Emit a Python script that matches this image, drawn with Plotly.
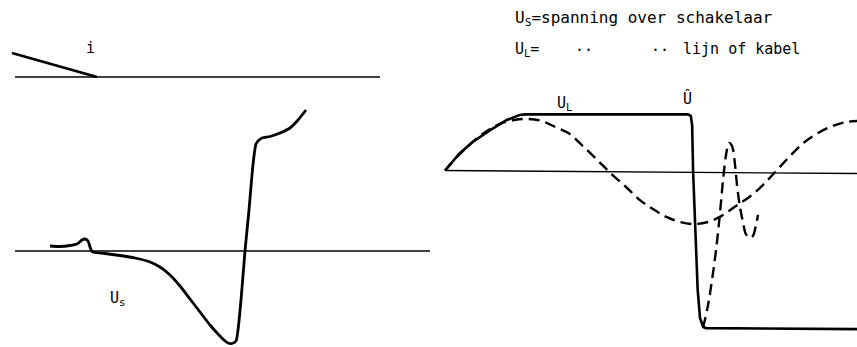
import plotly.graph_objects as go

# ---------------- data ----------------
# Left diagram: time in microseconds, 0 = current zero
t_i = [-17.0, 0.0]
i_vals = [1.0, 0.0]
t_i_axis = [-16.4, 56.6]

t_us = [-9.4, -7.4, -5.4, -4.0, -3.0, -2.4, -1.8, -1.4, -1.0, -0.4, 1.6, 4.6,
        7.6, 10.6, 12.6, 14.6, 16.6, 18.6, 20.6, 22.6, 24.2, 25.4, 26.2, 27.0,
        27.8, 28.2, 28.8, 29.6, 30.4, 31.0, 31.4, 31.8, 32.4, 33.0, 34.6, 36.6,
        38.6, 40.2, 41.8]
us_vals = [0.10, 0.09, 0.11, 0.14, 0.22, 0.24, 0.20, 0.08, -0.01, -0.03, -0.05,
           -0.09, -0.14, -0.22, -0.32, -0.48, -0.70, -0.96, -1.22, -1.48, -1.66,
           -1.78, -1.84, -1.85, -1.80, -1.58, -0.98, 0.0, 0.82, 1.52, 1.90, 2.14,
           2.22, 2.26, 2.29, 2.36, 2.46, 2.62, 2.82]
t_us_axis = [-16.4, 66.6]

# Right diagram: electrical degrees, voltage in per unit
deg_src = [0, 15, 30, 45, 60, 75, 90, 105, 120, 135, 150, 165, 180, 195, 210,
           225, 240, 255, 270, 285, 300, 315, 330, 345, 360, 375, 390, 405,
           420, 435, 447]
src_vals = [0.0, 0.30, 0.56, 0.77, 0.92, 0.99, 1.01, 0.97, 0.85, 0.72, 0.47,
            0.21, -0.06, -0.30, -0.56, -0.75, -0.91, -1.01, -1.05, -1.01,
            -0.89, -0.70, -0.52, -0.28, 0.01, 0.30, 0.56, 0.74, 0.87, 0.95, 0.97]

deg_ul = [0, 16, 30, 49, 67, 81, 87, 263.5, 266.5, 268, 269, 271, 274, 276.5,
          280, 283, 447]
ul_vals = [0.0, 0.34, 0.56, 0.79, 0.99, 1.09, 1.10, 1.10, 1.07, 0.89, 0.0,
           -1.07, -2.34, -2.89, -3.07, -3.09, -3.11]

deg_osc = [279.8, 285.2, 289.5, 293.9, 298.2, 301.5, 304.7, 308.0, 311.2,
           314.5, 316.6, 319.9, 323.1, 326.4, 330.7, 334.0, 337.2, 339.4]
osc_vals = [-3.09, -2.64, -2.15, -1.56, -0.83, -0.19, 0.30, 0.54, 0.48, 0.11,
            -0.28, -0.72, -1.01, -1.25, -1.32, -1.28, -1.07, -0.87]
deg_axis = [0, 447]

# ---------------- figure ----------------
W, H = 857, 347
INK = "black"

# pixel scales of the two diagrams
L_X0, L_KX = 97, 5.0       # px of t=0, px per microsecond
I_Y0, I_KY = 77, 24.0      # px of i=0, px per unit current
U_Y0, U_KY = 251, 50.0     # px of Us=0, px per unit
R_X0, R_KX = 445, 0.9222   # px of 0 deg, px per degree
R_Y0, R_KY = 170.5, 51.0   # px of 0 pu, px per pu


def xr(x0, k):
    return [(0 - x0) / k, (W - x0) / k]


def yr(y0, k):
    return [(y0 - H) / k, y0 / k]


fig = go.Figure()

solid = dict(color=INK, width=2.6)
thin = dict(color=INK, width=1.4)
dashed = dict(color=INK, width=2.4, dash="11px,6px")

# left: current and switch voltage
fig.add_trace(go.Scatter(x=t_i_axis, y=[0, 0], xaxis="x", yaxis="y",
                         mode="lines", line=thin))
fig.add_trace(go.Scatter(x=t_i, y=i_vals, xaxis="x", yaxis="y",
                         mode="lines", line=solid))
fig.add_trace(go.Scatter(x=t_us_axis, y=[0, 0], xaxis="x", yaxis="y2",
                         mode="lines", line=thin))
fig.add_trace(go.Scatter(x=t_us, y=us_vals, xaxis="x", yaxis="y2",
                         mode="lines", line=dict(color=INK, width=2.8,
                                                 shape="spline", smoothing=0.6)))

# right: line voltage and source voltage
fig.add_trace(go.Scatter(x=deg_axis, y=[0, -0.06], xaxis="x2", yaxis="y3",
                         mode="lines", line=thin))
fig.add_trace(go.Scatter(x=deg_src, y=src_vals, xaxis="x2", yaxis="y3",
                         mode="lines", line=dict(dashed, shape="spline")))
fig.add_trace(go.Scatter(x=deg_osc, y=osc_vals, xaxis="x2", yaxis="y3",
                         mode="lines", line=dict(dashed, shape="spline")))
fig.add_trace(go.Scatter(x=deg_ul, y=ul_vals, xaxis="x2", yaxis="y3",
                         mode="lines", line=solid))

font = dict(family="DejaVu Sans Mono", size=15, color=INK)
ann = [
    dict(x=-1.4, y=1.2, xref="x", yref="y", text="i"),
    dict(x=4.0, y=-0.94, xref="x", yref="y2", text="U<sub>s</sub>"),
    dict(x=130, y=1.32, xref="x2", yref="y3", text="U<sub>L</sub>"),
    dict(x=263, y=1.42, xref="x2", yref="y3", text="Û"),
]
for a in ann:
    fig.add_annotation(**a, showarrow=False, font=font)

legend_lines = [
    (513, 18, "U<sub>S</sub>=spanning over schakelaar", 16),
    (513, 49, "U<sub>L</sub>=", 15),
    (573, 50, "··", 15),
    (649, 50, "··", 15),
    (681, 49, "lijn of kabel", 15),
]
for px, py, txt, fs in legend_lines:
    fig.add_annotation(x=px / W, y=1 - py / H, xref="paper", yref="paper",
                       xanchor="left", yanchor="middle", text=txt,
                       showarrow=False, font=dict(font, size=fs))

hidden = dict(visible=False, fixedrange=True)
fig.update_layout(
    width=W, height=H,
    margin=dict(l=0, r=0, t=0, b=0),
    paper_bgcolor="white", plot_bgcolor="white",
    showlegend=False,
    xaxis=dict(hidden, domain=[0, 1], range=xr(L_X0, L_KX)),
    xaxis2=dict(hidden, domain=[0, 1], range=xr(R_X0, R_KX), overlaying="x"),
    yaxis=dict(hidden, domain=[0, 1], range=yr(I_Y0, I_KY)),
    yaxis2=dict(hidden, domain=[0, 1], range=yr(U_Y0, U_KY), overlaying="y"),
    yaxis3=dict(hidden, domain=[0, 1], range=yr(R_Y0, R_KY), overlaying="y",
                anchor="x2"),
)

fig.write_html("out.html")
